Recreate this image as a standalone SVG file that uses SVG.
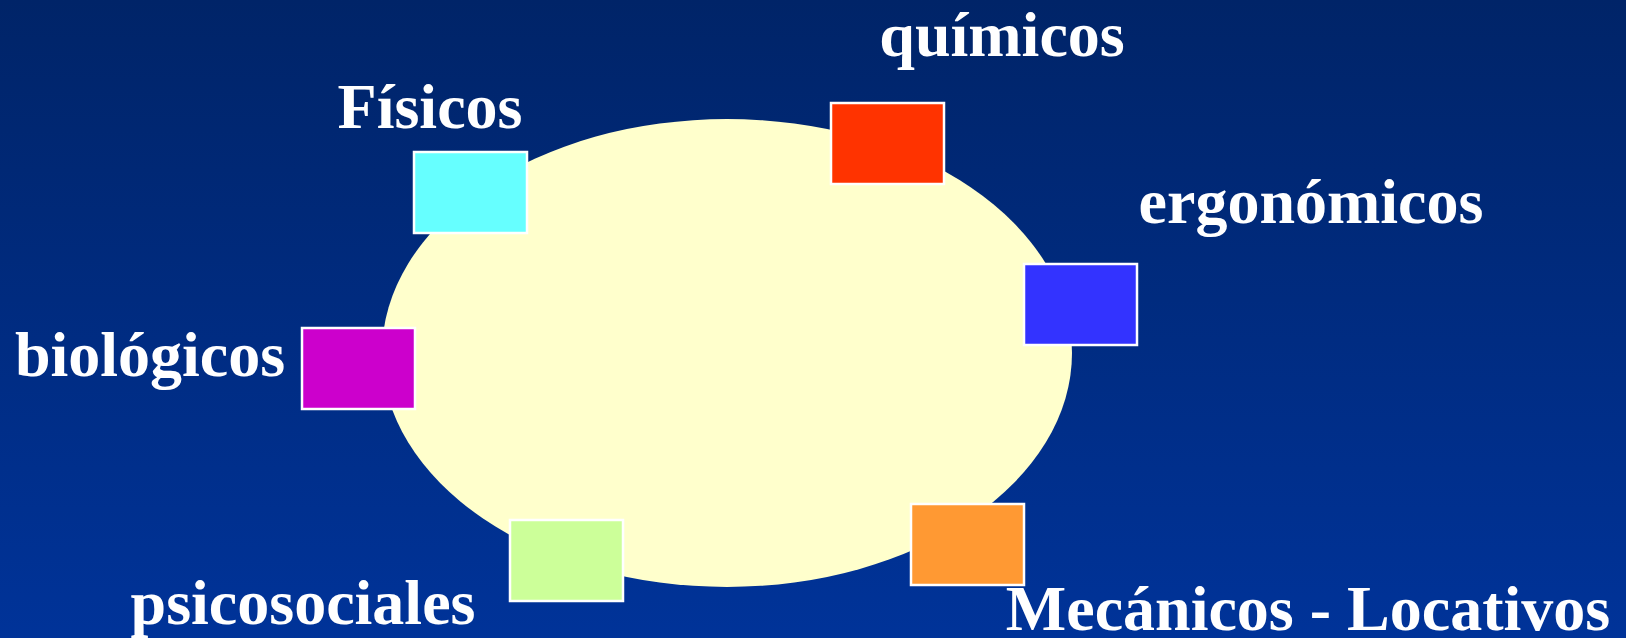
<svg xmlns="http://www.w3.org/2000/svg" width="1626" height="638" viewBox="0 0 1626 638">
<defs>
<linearGradient id="bg" x1="0" y1="0" x2="0" y2="1">
<stop offset="0" stop-color="#002468"/>
<stop offset="1" stop-color="#003399"/>
</linearGradient>
<style>
.lbl{font-family:"Liberation Serif","Times New Roman",serif;font-weight:bold;font-size:64px;fill:#ffffff;text-anchor:middle}
.box{stroke:#ffffff;stroke-width:2.5}
</style>
</defs>
<rect x="0" y="0" width="1626" height="638" fill="url(#bg)"/>
<g id="center">
<ellipse cx="727" cy="353" rx="345" ry="234" fill="#FFFFCC"/>
</g>
<g id="connectors"></g>
<g id="fisicos">
<rect class="box" x="414" y="152" width="113" height="81" fill="#66FFFF"/>
<text class="lbl" x="430" y="128">Físicos</text>
</g>
<g id="quimicos">
<rect class="box" x="831" y="103" width="113" height="81" fill="#FF3300"/>
<text class="lbl" x="1002" y="56">químicos</text>
</g>
<g id="ergonomicos">
<rect class="box" x="1024" y="264" width="113" height="81" fill="#3333FF"/>
<text class="lbl" x="1311" y="223">ergonómicos</text>
</g>
<g id="biologicos">
<rect class="box" x="302" y="328" width="113" height="81" fill="#CC00CC"/>
<text class="lbl" x="150" y="376">biológicos</text>
</g>
<g id="psicosociales">
<rect class="box" x="510" y="520" width="113" height="81" fill="#CCFF99"/>
<text class="lbl" x="303" y="624">psicosociales</text>
</g>
<g id="mecanicos">
<rect class="box" x="911" y="504" width="113" height="81" fill="#FF9933"/>
<text class="lbl" x="1308" y="630">Mecánicos - Locativos</text>
</g>
</svg>
